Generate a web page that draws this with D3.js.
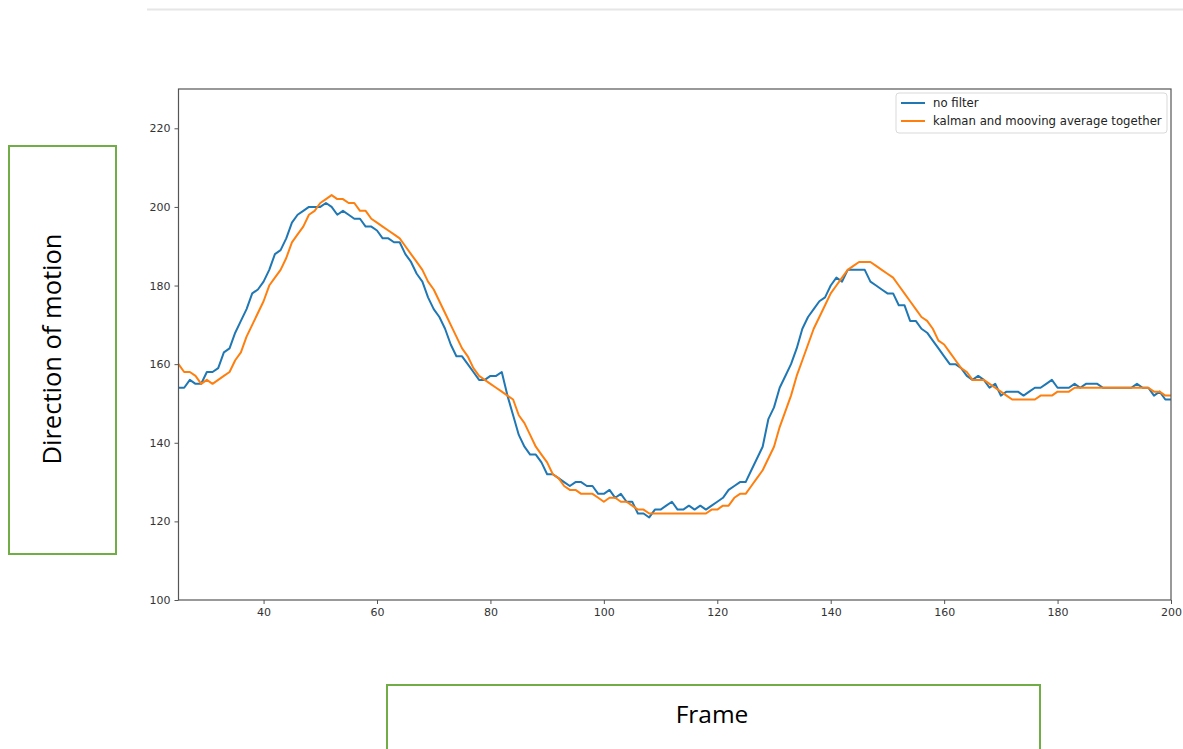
<!DOCTYPE html>
<html>
<head>
<meta charset="utf-8">
<script src="https://cdn.jsdelivr.net/npm/d3@7"></script>
<style>
  html, body { margin: 0; padding: 0; background: #fff; }
  svg { display: block; }
</style>
</head>
<body>
<svg id="chart" width="1183" height="749"></svg>
<script>
// Frame numbers shown on the x axis
const firstFrame = 25;
const lastFrame = 200;

// Raw direction of motion per frame (frames 25..200)
const noFilter = [
  154,154,156,155,155,158,158,159,163,164,168,171,174,178,179,181,184,188,189,192,
  196,198,199,200,200,200,201,200,198,199,198,197,197,195,195,194,192,192,191,191,
  188,186,183,181,177,174,172,169,165,162,162,160,158,156,156,157,157,158,152,147,
  142,139,137,137,135,132,132,131,130,129,130,130,129,129,127,127,128,126,127,125,
  125,122,122,121,123,123,124,125,123,123,124,123,124,123,124,125,126,128,129,130,
  130,133,136,139,146,149,154,157,160,164,169,172,174,176,177,180,182,181,184,184,
  184,184,181,180,179,178,178,175,175,171,171,169,168,166,164,162,160,160,159,157,
  156,157,156,154,155,152,153,153,153,152,153,154,154,155,156,154,154,154,155,154,
  155,155,155,154,154,154,154,154,154,155,154,154,152,153,151,151
];

// Kalman + moving average smoothed direction per frame (frames 25..200)
const kalmanAvg = [
  160,158,158,157,155,156,155,156,157,158,161,163,167,170,173,176,180,182,184,187,
  191,193,195,198,199,201,202,203,202,202,201,201,199,199,197,196,195,194,193,192,
  190,188,186,184,181,179,176,173,170,167,164,162,159,157,156,155,154,153,152,151,
  147,145,142,139,137,135,132,131,129,128,128,127,127,127,126,125,126,126,125,125,
  124,123,123,122,122,122,122,122,122,122,122,122,122,122,123,123,124,124,126,127,
  127,129,131,133,136,139,144,148,152,157,161,165,169,172,175,178,180,182,184,185,
  186,186,186,185,184,183,182,180,178,176,174,172,171,169,166,165,163,161,159,158,
  156,156,156,155,154,153,152,151,151,151,151,151,152,152,152,153,153,153,154,154,
  154,154,154,154,154,154,154,154,154,154,154,154,153,153,152,152
];

const xTicks = [40, 60, 80, 100, 120, 140, 160, 180, 200];
const yTicks = [100, 120, 140, 160, 180, 200, 220];
const yDomain = [100, 230];

const seriesNames = ["no filter", "kalman and mooving average together"];
const seriesColors = ["#1f77b4", "#ff7f0e"];

const frames = d3.range(firstFrame, lastFrame + 1);

const svg = d3.select("#chart");

// Thin rule across the top of the page
svg.append("line")
  .attr("x1", 147).attr("x2", 1183)
  .attr("y1", 9.5).attr("y2", 9.5)
  .attr("stroke", "#e6e6e6").attr("stroke-width", 2);

const plot = { left: 178.5, right: 1171, top: 89, bottom: 600 };

const x = d3.scaleLinear().domain([firstFrame, lastFrame]).range([plot.left, plot.right]);
const y = d3.scaleLinear().domain(yDomain).range([plot.bottom, plot.top]);

const axisColor = "#555";
const tickFont = "DejaVu Sans, sans-serif";

// Bottom axis
const gx = svg.append("g")
  .attr("transform", `translate(0,${plot.bottom})`)
  .call(d3.axisBottom(x).tickValues(xTicks).tickSize(4).tickPadding(4).tickFormat(d3.format("d")));
gx.select(".domain").remove();
gx.selectAll("line").attr("stroke", axisColor).attr("stroke-width", 1);
gx.selectAll("text").attr("font-family", tickFont).attr("font-size", 11).attr("fill", "#333");

// Left axis
const gy = svg.append("g")
  .attr("transform", `translate(${plot.left},0)`)
  .call(d3.axisLeft(y).tickValues(yTicks).tickSize(4).tickPadding(4).tickFormat(d3.format("d")));
gy.select(".domain").remove();
gy.selectAll("line").attr("stroke", axisColor).attr("stroke-width", 1);
gy.selectAll("text").attr("font-family", tickFont).attr("font-size", 11).attr("fill", "#333");

// Clip lines to the plotting area
svg.append("clipPath").attr("id", "plotClip")
  .append("rect")
  .attr("x", plot.left).attr("y", plot.top)
  .attr("width", plot.right - plot.left).attr("height", plot.bottom - plot.top);

const line = d3.line()
  .x((d, i) => x(frames[i]))
  .y(d => y(d));

const seriesData = [noFilter, kalmanAvg];
svg.append("g").attr("clip-path", "url(#plotClip)")
  .selectAll("path")
  .data(seriesData)
  .join("path")
  .attr("d", d => line(d))
  .attr("fill", "none")
  .attr("stroke", (d, i) => seriesColors[i])
  .attr("stroke-width", 2)
  .attr("stroke-linejoin", "round");

// Plot frame
svg.append("rect")
  .attr("x", plot.left).attr("y", plot.top)
  .attr("width", plot.right - plot.left).attr("height", plot.bottom - plot.top)
  .attr("fill", "none").attr("stroke", axisColor).attr("stroke-width", 1.2);

// Legend
const legend = svg.append("g").attr("transform", "translate(896,93)");
legend.append("rect")
  .attr("width", 271).attr("height", 40).attr("rx", 3)
  .attr("fill", "#fff").attr("fill-opacity", 0.8)
  .attr("stroke", "#d9d9d9");
seriesNames.forEach((name, i) => {
  const ly = 10 + i * 18;
  legend.append("line")
    .attr("x1", 5).attr("x2", 29).attr("y1", ly).attr("y2", ly)
    .attr("stroke", seriesColors[i]).attr("stroke-width", 2);
  legend.append("text")
    .attr("x", 37).attr("y", ly + 4)
    .attr("font-family", tickFont).attr("font-size", 11.7).attr("fill", "#222")
    .text(name);
});

// Axis title boxes
const boxGreen = "#70ad47";
svg.append("rect")
  .attr("x", 9).attr("y", 146).attr("width", 107).attr("height", 408)
  .attr("fill", "none").attr("stroke", boxGreen).attr("stroke-width", 2);
svg.append("text")
  .attr("transform", "translate(61,349) rotate(-90)")
  .attr("text-anchor", "middle")
  .attr("font-family", "Open Sans, Liberation Sans, sans-serif")
  .attr("font-size", 25.5).attr("fill", "#000")
  .text("Direction of motion");

svg.append("rect")
  .attr("x", 387).attr("y", 685).attr("width", 653).attr("height", 80)
  .attr("fill", "none").attr("stroke", boxGreen).attr("stroke-width", 2);
svg.append("text")
  .attr("x", 712).attr("y", 723)
  .attr("text-anchor", "middle")
  .attr("font-family", "Open Sans, Liberation Sans, sans-serif")
  .attr("font-size", 24.5).attr("fill", "#000")
  .text("Frame");
</script>
</body>
</html>
